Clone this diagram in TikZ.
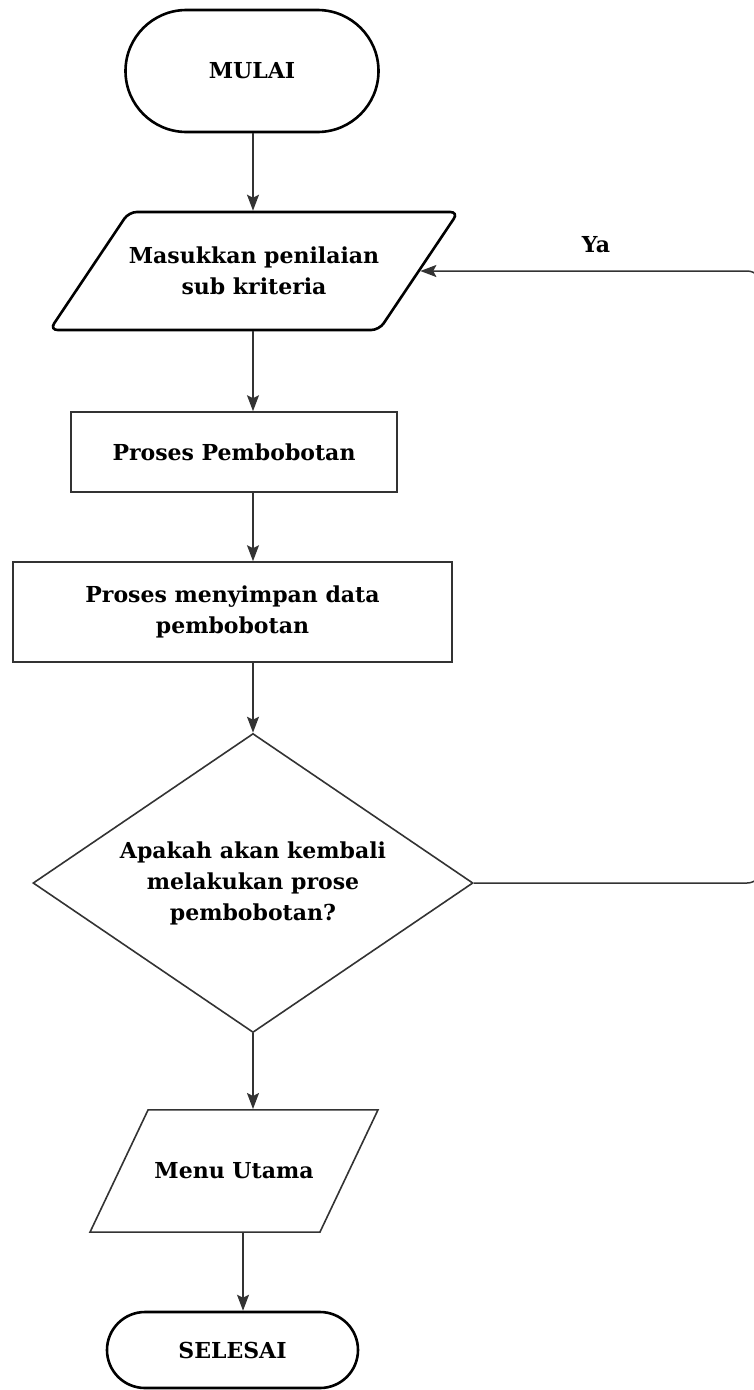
\documentclass[tikz,border=0pt]{standalone}
\usepackage{fontspec}
\setmainfont{DejaVu Serif}
\usetikzlibrary{shapes.geometric,shapes.misc,arrows.meta}

\begin{document}
\begin{tikzpicture}[x=1pt, y=-1pt,
    every node/.style={font=\bfseries\fontsize{22}{31}\selectfont, align=center},
    terminal/.style={rounded rectangle, draw, line width=2.6pt, inner sep=0pt},
    inputbox/.style={trapezium, trapezium stretches body, draw, inner xsep=0pt},
    process/.style={rectangle, draw=black!80, line width=1.6pt, inner sep=0pt},
    decision/.style={diamond, aspect=1.47, draw=black!80, line width=1.6pt, inner sep=0pt},
    arrow/.style={-{Stealth[length=16pt,width=12pt,inset=3pt]}, draw=black!80, line width=1.5pt},]

        % Frame of the page
        \useasboundingbox (0,0) rectangle (753,1390);

        % Shapes of the flow
        \node[terminal, minimum width=253pt, minimum height=122pt] (mulai) at (252,71) {MULAI};
        \node[inputbox, line width=2.6pt, rounded corners=8pt, inner ysep=32.5pt, trapezium left angle=55, trapezium right angle=125, minimum width=397pt, minimum height=118pt] (input) at (254,271) {Masukkan penilaian\\sub kriteria};
        \node[process, minimum width=326pt, minimum height=80pt] (bobot) at (234,452) {Proses Pembobotan};
        \node[process, minimum width=439pt, minimum height=100pt] (simpan) at (232.5,612) {Proses menyimpan data\\pembobotan};
        \node[decision, minimum width=440pt, minimum height=299pt] (ulang) at (253,883) {Apakah akan kembali\\melakukan prose\\pembobotan?};
        \node[inputbox, line width=1.6pt, draw=black!80, inner ysep=53pt, trapezium left angle=64.6, trapezium right angle=115.4, minimum width=288pt, minimum height=122pt] (menu) at (234,1171) {Menu Utama};
        \node[terminal, minimum width=251pt, minimum height=76pt] (selesai) at (232.5,1350) {SELESAI};

        % Label of the loop
        \node (ya) at (596,245) {Ya};
        \coordinate (turn) at (762,883);

        % Arrows between the shapes
        \draw[arrow] (mulai.south -| ulang.north) -- (input.north -| ulang.north);
        \draw[arrow] (input.south -| ulang.north) -- (bobot.north -| ulang.north);
        \draw[arrow] (bobot.south -| ulang.north) -- (simpan.north -| ulang.north);
        \draw[arrow] (simpan.south -| ulang.north) -- (ulang.north);
        \draw[arrow] (ulang.south) -- (menu.north -| ulang.south);
        \draw[arrow] ([xshift=9pt]menu.south) -- ([xshift=9pt]menu.south |- selesai.north);

        % Loop back to the input
        \draw[arrow, rounded corners=15pt] (ulang.east) -- (turn) -- (turn |- input.east) -- (input.east);

    \end{tikzpicture}
\end{document}
